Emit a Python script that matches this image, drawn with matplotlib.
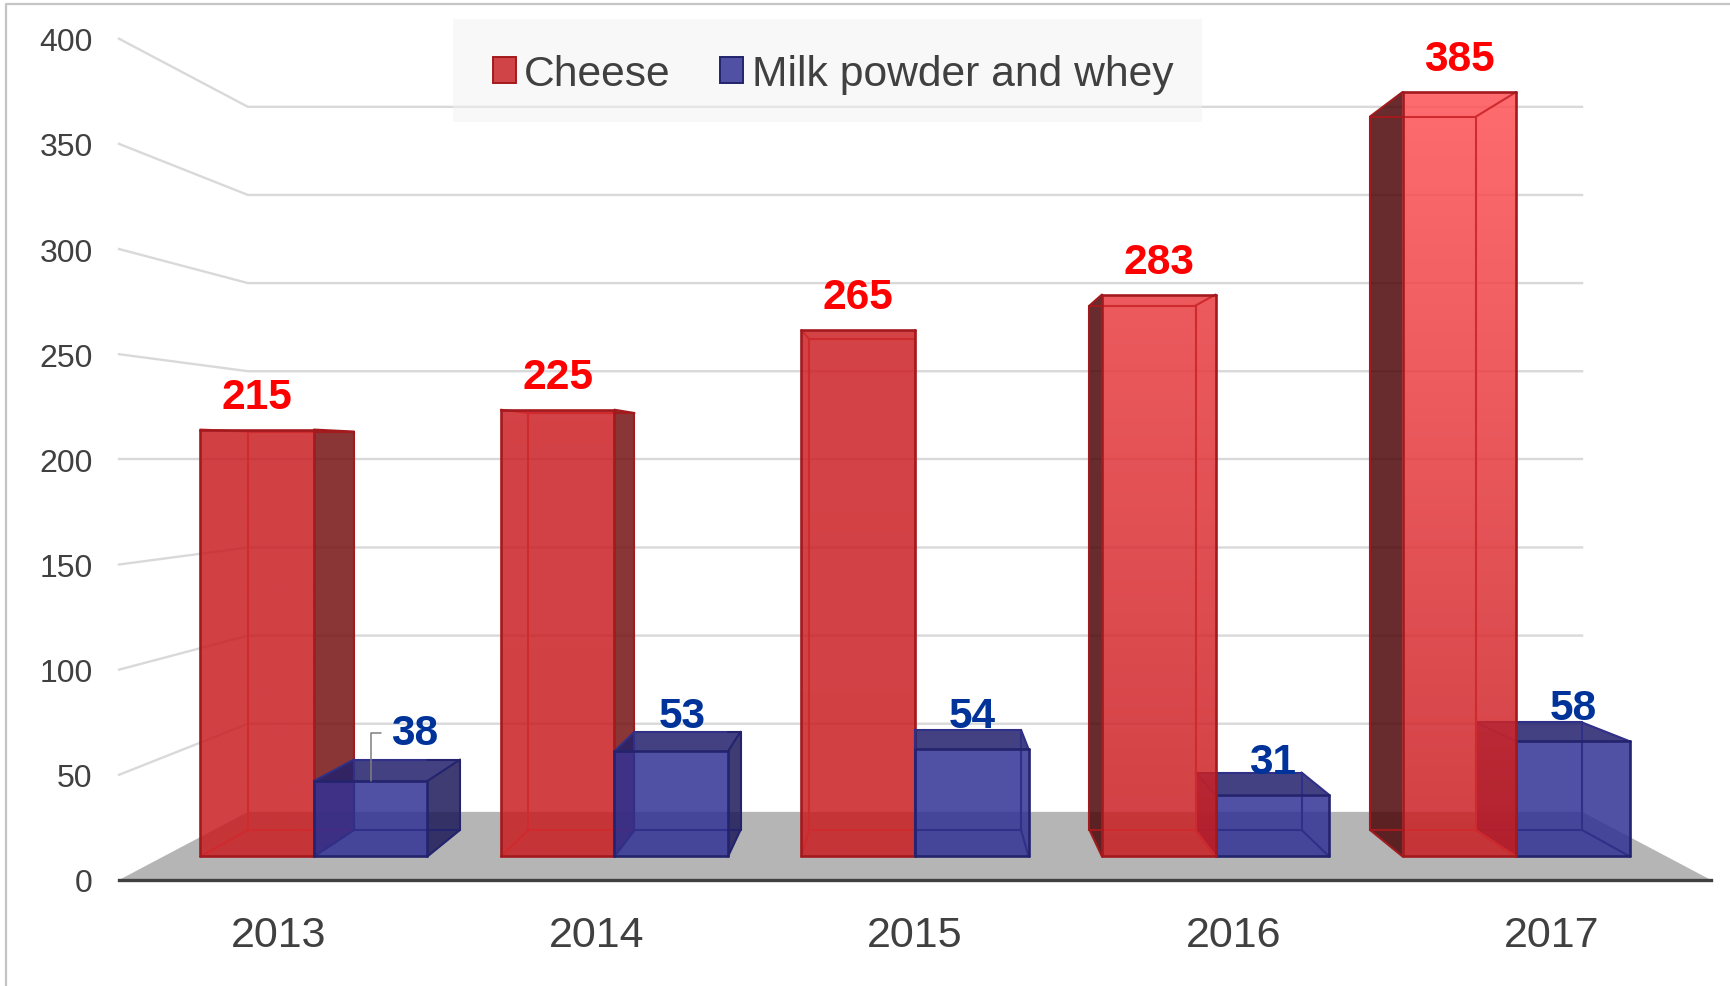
import numpy as np
import matplotlib
matplotlib.use("Agg")
import matplotlib.pyplot as plt
from matplotlib.lines import Line2D
from matplotlib.patches import Patch, Polygon, Rectangle

plt.rcParams['font.family'] = ['Liberation Sans', 'DejaVu Sans']

years = ['2013', '2014', '2015', '2016', '2017']
cheese = [215, 225, 265, 283, 385]
milk = [38, 53, 54, 31, 58]
yticks = [0, 50, 100, 150, 200, 250, 300, 350, 400]
series_names = ['Cheese', 'Milk powder and whey']

# how far each cheese bar fades to the light red at its top
cheese_light = [0.0, 0.04, 0.06, 0.6, 1.0]
# label shift for the milk labels, in pixels (first two were moved by hand in the original)
milk_dx = [44, 11, 0, 0, 0]
milk_dy = [48, 35, 33, 33, 33]

W, H = 1731, 987
ALPHA = 0.85
BAR_W = 0.378
VP_U, VP_V = 2.5, 200  # vanishing point in data units
WALL_S = 0.838  # scale of the back wall
FRONT_S = 0.944  # scale of the front of the bars
BACK_S = 0.881  # scale of the back of the bars


def project(u, v, s):
    return VP_U + (u - VP_U) * s, VP_V + (v - VP_V) * s


def rgb(r, g, b):
    return (r / 255, g / 255, b / 255)


fig = plt.figure(figsize=(W / 100, H / 100), dpi=100)
ax = fig.add_axes([119 / W, (H - 881) / H, (1711 - 119) / W, (881 - 39.7) / H])
ax.set_xlim(0, 5)
ax.set_ylim(0, 400)
ax.autoscale(False)
for name in ['top', 'left', 'right']:
    ax.spines[name].set_visible(False)
ax.spines['bottom'].set_color('#404040')
ax.spines['bottom'].set_linewidth(2.4)
ax.spines['bottom'].set_zorder(3)
ax.patch.set_alpha(0)

ax.set_yticks(yticks)
ax.set_yticklabels([str(t) for t in yticks], fontsize=23, color='#404040')
ax.set_xticks(np.arange(len(years)) + 0.5)
ax.set_xticklabels(years, fontsize=31, color='#404040')
ax.tick_params(axis='y', length=0, pad=19)
ax.tick_params(axis='x', length=0, pad=25.5)

# outer frame of the picture, only top and left
fig.add_artist(Line2D([6.5 / W, 6.5 / W, 1], [0, 1 - 4.5 / H, 1 - 4.5 / H], color='#C4C4C4', lw=1.6))

# walls and floor
for t in yticks[1:]:
    x0, y0 = project(0, t, 1)
    x1, y1 = project(0, t, WALL_S)
    x2, y2 = project(5, t, WALL_S)
    ax.plot([x0, x1, x2], [y0, y1, y2], color='#D9D9D9', lw=1.7, zorder=1, clip_on=False)
floor = [project(0, 0, 1), project(5, 0, 1), project(5, 0, WALL_S), project(0, 0, WALL_S)]
ax.add_patch(Polygon(floor, closed=True, fc='#B5B5B5', ec='none', zorder=2))

order = [0]


def next_z():
    order[0] += 1
    return 4 + order[0] * 0.01


def face(pts, color, alpha=ALPHA):
    ax.add_patch(Polygon(pts, closed=True, fc=color + (alpha,), ec='none', zorder=next_z(), clip_on=False))


def edge(a, b, color, lw):
    ax.plot([a[0], b[0]], [a[1], b[1]], color=color, lw=lw, zorder=next_z(), solid_capstyle='round', clip_on=False)


def draw_box(u0, u1, val, front, right_side, left_side, top, inner, outer, light_top=None):
    fl0 = project(u0, 0, FRONT_S)
    fr0 = project(u1, 0, FRONT_S)
    fl1 = project(u0, val, FRONT_S)
    fr1 = project(u1, val, FRONT_S)
    bl0 = project(u0, 0, BACK_S)
    br0 = project(u1, 0, BACK_S)
    bl1 = project(u0, val, BACK_S)
    br1 = project(u1, val, BACK_S)

    show_right = u1 < VP_U - 0.01
    show_left = u0 > VP_U + 0.01
    if show_right:
        face([fr0, br0, br1, fr1], right_side)
    if show_left:
        face([fl0, bl0, bl1, fl1], left_side)
    if val < VP_V:
        face([fl1, fr1, br1, bl1], top)

    if light_top is None:
        face([fl0, fr0, fr1, fl1], front)
    else:
        # front with a vertical shade, low end to the top colour
        c0 = np.array(front)
        c1 = c0 + (np.array(rgb(255, 81, 85)) - c0) * light_top
        n = 64
        grad = np.zeros((n, 1, 4))
        for k in range(3):
            grad[:, 0, k] = np.linspace(c0[k], c1[k], n)
        grad[:, 0, 3] = ALPHA
        im = ax.imshow(grad, origin='lower', aspect='auto', interpolation='bilinear',
                       extent=(fl0[0], fr0[0], fl0[1], fl1[1]), zorder=next_z())
        im.set_clip_path(Polygon([fl0, fr0, fr1, fl1], closed=True, transform=ax.transData))

    # the edges of a side face seen from outside are dark like the silhouette
    left_col = outer if show_left else inner
    right_col = outer if show_right else inner
    edges = [(bl0, bl1, left_col), (fl0, bl0, left_col), (fl1, bl1, left_col),
             (br0, br1, right_col), (fr0, br0, right_col), (fr1, br1, right_col)]
    # back edges change colour where they leave the front face
    for bl, br in [(bl0, br0), (bl1, br1)]:
        if show_left:
            mid = (fl0[0], bl[1])
            edges += [(bl, mid, outer), (mid, br, inner)]
        elif show_right:
            mid = (fr0[0], bl[1])
            edges += [(bl, mid, inner), (mid, br, outer)]
        else:
            edges.append((bl, br, inner))
    for a, b, c in edges:
        edge(a, b, c, 1.5)
    for a, b in [(fl0, fr0), (fr0, fr1), (fr1, fl1), (fl1, fl0)]:
        edge(a, b, outer, 1.9)


def draw_cheese(i):
    u0 = i + 0.122
    draw_box(u0, u0 + BAR_W, cheese[i], rgb(201, 30, 34), rgb(119, 19, 19), rgb(77, 7, 9),
             rgb(201, 30, 34), '#CF2A2E', '#A31A1E', light_top=cheese_light[i])


def draw_milk(i):
    u0 = i + 0.122 + BAR_W
    draw_box(u0, u0 + BAR_W, milk[i], rgb(49, 49, 149), rgb(29, 26, 90), rgb(29, 26, 90),
             rgb(35, 32, 108), '#303088', '#23236E')


for i in range(len(years)):
    # the bars further from the vanishing point go first
    if i < 3:
        draw_cheese(i)
        draw_milk(i)
    else:
        draw_milk(i)
        draw_cheese(i)

# value labels
for i in range(len(years)):
    x, y = project(i + 0.122 + BAR_W / 2, cheese[i], FRONT_S)
    ax.annotate(str(cheese[i]), (x, y), xytext=(0, 33 * 0.72), textcoords='offset points', ha='center',
                va='center', fontsize=30.6, fontweight='bold', color='#FF0000', zorder=20, annotation_clip=False)
    x, y = project(i + 0.122 + BAR_W * 1.5, milk[i], FRONT_S)
    arrow = None
    if i == 0:
        arrow = dict(arrowstyle='-', color='#7F7F7F', lw=1.1, relpos=(0, 0.5), shrinkA=5, shrinkB=0,
                     connectionstyle='angle,angleA=0,angleB=90,rad=0')
    ax.annotate(str(milk[i]), (x, y), xytext=(milk_dx[i] * 0.72, milk_dy[i] * 0.72), textcoords='offset points',
                ha='center', va='center', fontsize=30.6, fontweight='bold', color='#003399', zorder=20,
                arrowprops=arrow, annotation_clip=False)

# legend background sits apart, the original pads it unevenly
ax.add_patch(Rectangle((453 / W, 1 - 123 / H), (1202 - 453) / W, (123 - 20) / H, transform=fig.transFigure,
                       fc='#F2F2F2', ec='none', alpha=0.5, zorder=25, clip_on=False))
handles = [Patch(fc='#D04448', ec='#A31A1E', lw=1.4), Patch(fc='#5050A5', ec='#23236E', lw=1.4)]
leg = ax.legend(handles, series_names, ncols=2, loc='center', bbox_to_anchor=(833 / W, 1 - 75 / H),
                bbox_transform=fig.transFigure, fontsize=30.7, labelcolor='#404040', frameon=False,
                handlelength=0.54, handleheight=0.56, handletextpad=0.2, columnspacing=1.16,
                borderpad=0.85, borderaxespad=0)
leg.set_zorder(30)

fig.savefig('out.png', dpi=100)
